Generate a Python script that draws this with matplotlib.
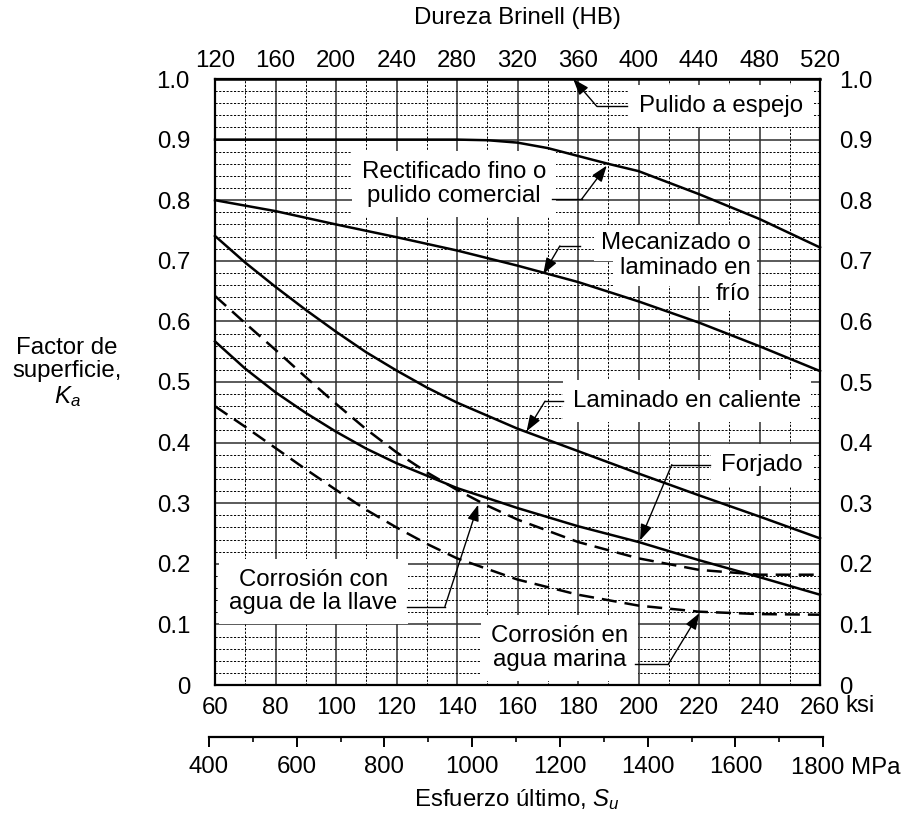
import matplotlib
matplotlib.use('Agg')
import matplotlib.pyplot as plt
from matplotlib.ticker import MultipleLocator, FuncFormatter, FixedLocator

plt.rcParams['font.family'] = ['Liberation Sans', 'DejaVu Sans']
plt.rcParams['mathtext.fontset'] = 'custom'
plt.rcParams['mathtext.rm'] = 'Liberation Sans'
plt.rcParams['mathtext.it'] = 'Liberation Sans:italic'
FS = 17.3

# ---------------- data (Su in ksi, Ka) ----------------
ksi_pulido = [60, 260]
ka_pulido = [1.0, 1.0]

ksi_rect = [60, 140, 150, 160, 170, 180, 190, 200, 220, 240, 260]
ka_rect = [0.900, 0.900, 0.899, 0.895, 0.886, 0.873, 0.860, 0.848, 0.810, 0.769, 0.722]

ksi_mec = [60, 80, 100, 120, 140, 160, 180, 200, 220, 240, 260]
ka_mec = [0.800, 0.782, 0.760, 0.739, 0.717, 0.692, 0.665, 0.633, 0.598, 0.559, 0.518]

ksi_lam = [60, 70, 80, 90, 100, 110, 120, 130, 140, 160, 180, 200, 220, 240, 260]
ka_lam = [0.741, 0.697, 0.657, 0.619, 0.583, 0.549, 0.519, 0.491, 0.466, 0.423, 0.386, 0.349, 0.313, 0.278, 0.242]

ksi_forj = [60, 70, 80, 90, 100, 110, 120, 140, 160, 180, 200, 220, 240, 260]
ka_forj = [0.567, 0.522, 0.483, 0.449, 0.418, 0.390, 0.366, 0.325, 0.292, 0.262, 0.236, 0.206, 0.178, 0.149]

ksi_llave = [60, 70, 80, 90, 100, 110, 120, 130, 140, 150, 160, 180, 200, 220, 240, 260]
ka_llave = [0.642, 0.597, 0.553, 0.508, 0.464, 0.422, 0.384, 0.351, 0.322, 0.296, 0.273, 0.236, 0.209, 0.190, 0.182, 0.182]

ksi_marina = [60, 70, 80, 90, 100, 110, 120, 130, 140, 160, 180, 200, 220, 240, 260]
ka_marina = [0.460, 0.426, 0.391, 0.356, 0.322, 0.289, 0.260, 0.233, 0.209, 0.174, 0.149, 0.131, 0.121, 0.117, 0.116]

curves = [
    (ksi_pulido, ka_pulido, '-'),
    (ksi_rect, ka_rect, '-'),
    (ksi_mec, ka_mec, '-'),
    (ksi_lam, ka_lam, '-'),
    (ksi_forj, ka_forj, '-'),
    (ksi_llave, ka_llave, 'dashed'),
    (ksi_marina, ka_marina, 'dashed'),
]

# tick labels
ksi_ticks = list(range(60, 261, 20))
hb_ticks = list(range(120, 521, 40))
mpa_major = list(range(400, 1801, 200))
mpa_minor = list(range(500, 1800, 200))
ka_ticks = [i / 10 for i in range(11)]

# annotations
labels = [
    dict(lines=['Pulido a espejo'], x=200.2, y=[0.955], ha='left', single=True,
         hx=(186.2, 196.1), hy=0.955, elbow=(186.2, 0.955), tip=(178.4, 1.0)),
    dict(lines=['Rectificado fino o', 'pulido comercial'], x=139.0, y=[0.827], ha='center', single=True,
         hx=(171.4, 181.2), hy=0.8017, elbow=(181.2, 0.8017), tip=(189.5, 0.857)),
    dict(lines=['Mecanizado o', 'laminado en', 'frío'], x=237.0, y=[0.729, 0.688, 0.646], ha='right', single=False,
         hx=(174.0, 180.7), hy=0.7245, elbow=(174.0, 0.7245), tip=(168.5, 0.678)),
    dict(lines=['Laminado en caliente'], x=178.3, y=[0.468], ha='left', single=True,
         hx=(169.1, 175.1), hy=0.4683, elbow=(169.1, 0.4683), tip=(163.0, 0.4187)),
    dict(lines=['Forjado'], x=227.3, y=[0.3636], ha='left', single=True,
         hx=(211.0, 223.6), hy=0.3636, elbow=(211.0, 0.3636), tip=(200.5, 0.2385)),
    dict(lines=['Corrosión con', 'agua de la llave'], x=92.6, y=[0.1543], ha='center', single=True,
         hx=(123.4, 136.0), hy=0.1294, elbow=(136.0, 0.1294), tip=(147.0, 0.2975)),
    dict(lines=['Corrosión en', 'agua marina'], x=173.9, y=[0.0606], ha='center', single=True,
         hx=(198.8, 209.9), hy=0.0347, elbow=(209.9, 0.0347), tip=(220.1, 0.1185)),
]

KSI_TO_MPA = 6.894757

# ---------------- figure ----------------
W, H = 901, 824
fig = plt.figure(figsize=(W / 100, H / 100), dpi=100)
L, R, B, T = 215 / W, 820 / W, 1 - 685 / H, 1 - 79 / H
ax = fig.add_axes([L, B, R - L, T - B])
ax.set_xlim(60, 260)
ax.set_ylim(0, 1.0)

ax.xaxis.set_major_locator(FixedLocator(ksi_ticks))
ax.xaxis.set_minor_locator(MultipleLocator(10))
ax.yaxis.set_major_locator(FixedLocator(ka_ticks))
ax.yaxis.set_minor_locator(MultipleLocator(0.02))
ax.set_axisbelow(True)
ax.grid(which='major', color='#2e2e2e', lw=1.1, ls='-')
ax.grid(which='minor', color='black', lw=0.7, ls=(0, (2.2, 1.6)))
ax.tick_params(which='both', length=0)
ax.tick_params(axis='x', labelsize=FS, pad=9)
ax.tick_params(axis='y', labelsize=FS, pad=18)
kafmt = FuncFormatter(lambda v, p: '0' if abs(v) < 1e-9 else f'{v:.1f}')
ax.yaxis.set_major_formatter(kafmt)
ax.xaxis.set_major_formatter(FuncFormatter(lambda v, p: f'{v:.0f}'))
for s in ax.spines.values():
    s.set_linewidth(1.6)
    s.set_color('black')

# top Brinell axis
sec = ax.secondary_xaxis('top', functions=(lambda k: 2 * k, lambda h: h / 2))
sec.xaxis.set_major_locator(FixedLocator(hb_ticks))
sec.tick_params(length=0, labelsize=FS, pad=5)
sec.spines['top'].set_visible(False)

# right Ka labels
secy = ax.secondary_yaxis('right')
secy.yaxis.set_major_locator(FixedLocator(ka_ticks))
secy.yaxis.set_major_formatter(kafmt)
secy.tick_params(length=0, labelsize=FS, pad=14)
secy.spines['right'].set_visible(False)

# curves
for xs, ys, ls in curves:
    if ls == 'dashed':
        ax.plot(xs, ys, color='black', lw=1.8, ls=(0, (6, 3.2)), zorder=3, clip_on=False)
    else:
        ax.plot(xs, ys, color='black', lw=1.8, ls='-', zorder=3, clip_on=False,
                solid_joinstyle='round')

# labels with white boxes and leaders
bbox = dict(boxstyle='square,pad=0.42', facecolor='white', edgecolor='none')
for lab in labels:
    if lab['single']:
        ax.text(lab['x'], lab['y'][0], '\n'.join(lab['lines']), ha=lab['ha'], va='center',
                multialignment='center', linespacing=1.1, fontsize=FS, bbox=bbox, zorder=2)
    else:
        for line, yy in zip(lab['lines'], lab['y']):
            ax.text(lab['x'], yy, line, ha=lab['ha'], va='center', fontsize=FS,
                    bbox=dict(boxstyle='square,pad=0.28', facecolor='white', edgecolor='none'),
                    zorder=2)
    ax.plot(list(lab['hx']), [lab['hy'], lab['hy']], color='black', lw=1.0, zorder=4)
    ax.annotate('', xy=lab['tip'], xytext=lab['elbow'], zorder=4,
                arrowprops=dict(arrowstyle='-|>,head_length=0.7,head_width=0.25',
                                color='black', lw=1.0, shrinkA=0, shrinkB=0,
                                mutation_scale=14))

# MPa axis (separate line below)
pos = ax.get_position()
def ksi_to_fig(k):
    return pos.x0 + (k - 60) / 200 * pos.width
x_left = ksi_to_fig(mpa_major[0] / KSI_TO_MPA)
x_right = ksi_to_fig(mpa_major[-1] / KSI_TO_MPA)
axm = fig.add_axes([x_left, 1 - 737 / H, x_right - x_left, 1e-4])
axm.set_xlim(mpa_major[0], mpa_major[-1])
axm.set_ylim(0, 1)
axm.patch.set_visible(False)
for k in ['left', 'right', 'top']:
    axm.spines[k].set_visible(False)
axm.spines['bottom'].set_linewidth(1.6)
axm.set_yticks([])
axm.xaxis.set_major_locator(FixedLocator(mpa_major))
axm.xaxis.set_minor_locator(FixedLocator(mpa_minor))
last_mpa = mpa_major[-1]
axm.xaxis.set_major_formatter(FuncFormatter(lambda v, p: '' if v == last_mpa else f'{v:.0f}'))
axm.tick_params(axis='x', which='major', length=7.5, width=1.4, labelsize=FS, pad=6)
axm.tick_params(axis='x', which='minor', length=3.8, width=1.2)

# unit texts and axis titles
fig.text(791 / W, 1 - 768 / H, f'{last_mpa} MPa', ha='left', va='center', fontsize=FS)
fig.text(845 / W, 1 - 706 / H, 'ksi', ha='left', va='center', fontsize=FS)
fig.text(517.5 / W, 1 - 18 / H, 'Dureza Brinell (HB)', ha='center', va='center', fontsize=FS)
fig.text(517 / W, 1 - 800 / H, 'Esfuerzo último, $S_u$', ha='center', va='center', fontsize=FS)
fig.text(67 / W, 1 - 373 / H, 'Factor de\nsuperficie,\n$K_a$', ha='center', va='center',
         multialignment='center', linespacing=1.1, fontsize=FS)

fig.savefig('out.png', dpi=100)
